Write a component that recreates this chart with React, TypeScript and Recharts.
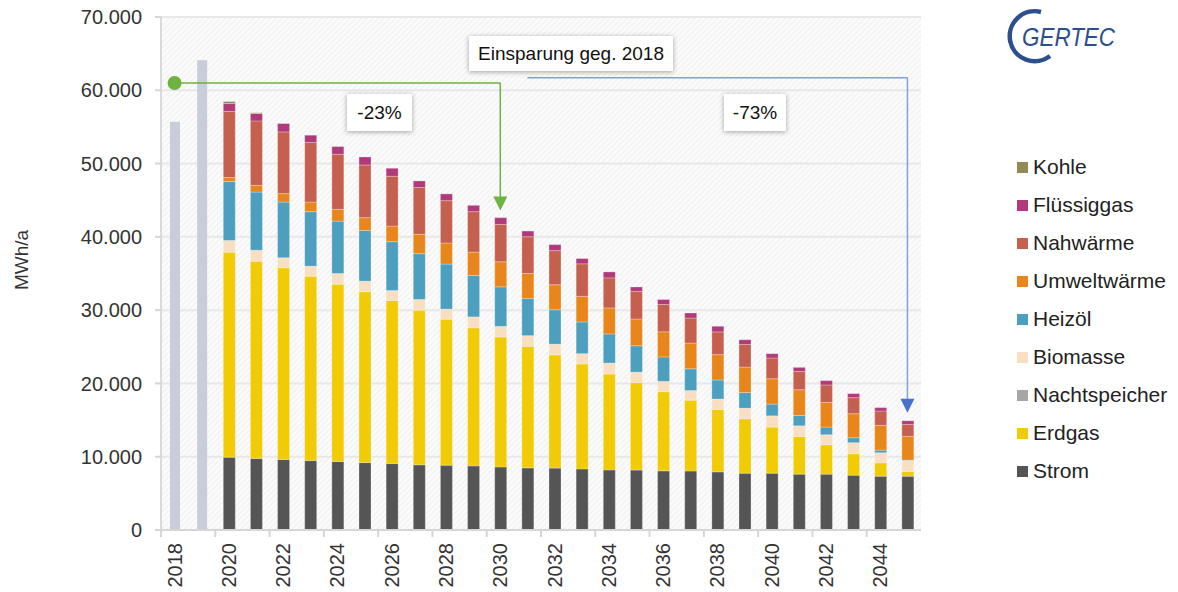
import React from 'react';
import {
  BarChart,
  Bar,
  XAxis,
  YAxis,
  CartesianGrid,
  ReferenceLine,
  ReferenceDot,
} from 'recharts';

// years on the x axis
const years = [
  '2018', '2019', '2020', '2021', '2022', '2023', '2024', '2025', '2026', '2027',
  '2028', '2029', '2030', '2031', '2032', '2033', '2034', '2035', '2036', '2037',
  '2038', '2039', '2040', '2041', '2042', '2043', '2044', '2045',
];

// measured totals (grey bars, 2018 + 2019 only)
const bestand = [55700, 64100];

// scenario 2020..2045, MWh/a
const strom = [9940, 9750, 9610, 9470, 9340, 9200, 9060, 8900, 8850, 8750, 8610, 8480, 8450, 8340, 8200, 8180, 8070, 8050, 7930, 7750, 7750, 7620, 7620, 7480, 7340, 7340];
const erdgas = [27970, 26930, 26170, 25160, 24200, 23310, 22250, 21100, 19920, 18830, 17730, 16580, 15450, 14310, 13080, 11940, 10800, 9670, 8520, 7420, 6290, 5140, 4010, 2930, 1830, 640];
const nachtspeicher = [0, 0, 0, 0, 0, 0, 0, 0, 0, 0, 0, 0, 0, 0, 0, 0, 0, 0, 0, 0, 0, 0, 0, 0, 0, 0];
const biomasse = [1600, 1500, 1370, 1370, 1460, 1440, 1370, 1460, 1370, 1500, 1450, 1460, 1460, 1410, 1500, 1420, 1410, 1310, 1420, 1460, 1540, 1460, 1370, 1500, 1370, 1500];
const heizoel = [8030, 7930, 7600, 7440, 7150, 6930, 6660, 6250, 6150, 5650, 5390, 5060, 4690, 4330, 3970, 3600, 3340, 2970, 2600, 2130, 1600, 1410, 1050, 680, 360, 50];
const umwelt = [550, 920, 1150, 1310, 1600, 1740, 2130, 2640, 2870, 3190, 3420, 3420, 3420, 3500, 3550, 3650, 3420, 3510, 3460, 3470, 3460, 3510, 3360, 3280, 3380, 3240];
const nahwaerme = [9020, 8790, 8420, 8120, 7520, 7190, 6800, 6380, 5780, 5520, 5100, 5020, 4650, 4430, 4100, 3770, 3730, 3420, 3100, 3090, 2830, 2500, 2380, 2190, 1960, 1640];
const fluessiggas = [1090, 1010, 1150, 1000, 1050, 1090, 1090, 900, 920, 860, 920, 770, 820, 720, 820, 600, 680, 680, 770, 640, 590, 550, 590, 550, 460, 490];
const kohle = [270, 100, 50, 0, 0, 0, 0, 0, 0, 0, 0, 0, 0, 0, 0, 0, 0, 0, 0, 0, 0, 0, 0, 0, 0, 0];

const yTicks = [0, 10000, 20000, 30000, 40000, 50000, 60000, 70000];

// bottom to top
const series = [
  { key: 'strom', name: 'Strom', color: '#555555', values: strom },
  { key: 'erdgas', name: 'Erdgas', color: '#f2cb07', values: erdgas },
  { key: 'nachtspeicher', name: 'Nachtspeicher', color: '#a6a6a6', values: nachtspeicher },
  { key: 'biomasse', name: 'Biomasse', color: '#f8dfc2', values: biomasse },
  { key: 'heizoel', name: 'Heizöl', color: '#4c9fbe', values: heizoel },
  { key: 'umwelt', name: 'Umweltwärme', color: '#e9861b', values: umwelt },
  { key: 'nahwaerme', name: 'Nahwärme', color: '#c5604e', values: nahwaerme },
  { key: 'fluessiggas', name: 'Flüssiggas', color: '#b03a7a', values: fluessiggas },
  { key: 'kohle', name: 'Kohle', color: '#938a55', values: kohle },
];

const data = years.map((year, i) => {
  const row: Record<string, any> = { year };
  if (i < bestand.length) {
    row.bestand = bestand[i];
  } else {
    series.forEach((s) => {
      row[s.key] = s.values[i - bestand.length];
    });
  }
  return row;
});

const FONT = '"Liberation Sans", Arial, Helvetica, sans-serif';
const W = 1178;
const H = 592;
const PLOT_LEFT = 161;
const PLOT_RIGHT = 921;
const BAND = (PLOT_RIGHT - PLOT_LEFT) / years.length;

const formatDe = (v: number) => v.toLocaleString('de-DE');

const XTick = (props: any) => {
  const { x, y, payload } = props;
  const lx = x - BAND / 2;
  return (
    <g>
      <line x1={lx} x2={lx} y1={y} y2={y + 7} stroke="#d6d6d6" strokeWidth={2} />
      <text
        x={x}
        y={y + 13}
        transform={`rotate(-90 ${x} ${y + 13})`}
        textAnchor="end"
        dominantBaseline="central"
        fontSize={20}
        fill="#333"
        fontFamily={FONT}
      >
        {payload.value}
      </text>
    </g>
  );
};

const GreyBar = (props: any) => {
  const { x, y, width, height } = props;
  if (!height) return null;
  return <rect x={x + 1} y={y} width={width - 2} height={height} fill="#c9cdd9" />;
};

const arrow = (color: string) => (props: any) => {
  const { cx, cy } = props;
  return (
    <path d={`M ${cx - 7} ${cy - 14} L ${cx + 7} ${cy - 14} L ${cx} ${cy} Z`} fill={color} />
  );
};

const boxStyle: React.CSSProperties = {
  position: 'absolute',
  background: '#fff',
  boxShadow: '0 1px 5px rgba(0,0,0,0.35)',
  fontFamily: FONT,
  fontSize: 19,
  color: '#111',
  display: 'flex',
  alignItems: 'center',
  justifyContent: 'center',
};

const Logo = () => (
  <svg width={150} height={70} style={{ position: 'absolute', left: 990, top: 0 }}>
    <path
      d="M 51 12 A 25 25 0 1 0 60 56"
      fill="none"
      stroke="#2d4f8e"
      strokeWidth={4.5}
    />
    <text
      x={32}
      y={46}
      fontSize={25}
      fontStyle="italic"
      fill="#2d4f8e"
      fontFamily={FONT}
      textLength={93}
      lengthAdjust="spacingAndGlyphs"
    >
      GERTEC
    </text>
  </svg>
);

const legendItems = [...series].reverse();

export default function App() {
  return (
    <div
      style={{
        position: 'absolute',
        left: 0,
        top: 0,
        width: W,
        height: H,
        background: '#fff',
        fontFamily: FONT,
      }}
    >
      <BarChart
        width={W}
        height={H}
        data={data}
        margin={{ top: 17, right: W - PLOT_RIGHT, bottom: 0, left: 0 }}
        barSize={12}
      >
        <defs>
          <pattern id="hatch" width="4" height="4" patternUnits="userSpaceOnUse" patternTransform="rotate(45)">
            <rect width="4" height="4" fill="#fbfbfb" />
            <line x1="0" y1="0" x2="0" y2="4" stroke="#ececec" strokeWidth={1.5} />
          </pattern>
        </defs>
        <CartesianGrid
          vertical={false}
          stroke="#e8e8e8"
          strokeWidth={2}
          fill="url(#hatch)"
          fillOpacity={1}
        />
        <XAxis
          dataKey="year"
          interval={1}
          height={62}
          tickLine={false}
          tickSize={0}
          tickMargin={0}
          axisLine={{ stroke: '#d6d6d6', strokeWidth: 2 }}
          tick={<XTick />}
        />
        <YAxis
          width={PLOT_LEFT}
          domain={[0, 70000]}
          ticks={yTicks}
          tickFormatter={formatDe}
          axisLine={{ stroke: '#dadada', strokeWidth: 2 }}
          tickLine={{ stroke: '#d6d6d6', strokeWidth: 2 }}
          tickSize={6}
          tickMargin={13}
          tick={{ fontSize: 20, fill: '#333', fontFamily: FONT }}
          label={{
            content: () => (
              <text
                x={21}
                y={260}
                transform="rotate(-90 21 260)"
                textAnchor="middle"
                dominantBaseline="central"
                fontSize={19}
                fill="#333"
                fontFamily={FONT}
              >
                MWh/a
              </text>
            ),
          }}
        />
        <Bar dataKey="bestand" stackId="a" shape={<GreyBar />} isAnimationActive={false} />
        {series.map((s) => (
          <Bar
            key={s.key}
            dataKey={s.key}
            name={s.name}
            stackId="a"
            fill={s.color}
            stroke="#ffffff"
            strokeOpacity={0.45}
            strokeWidth={0.6}
            isAnimationActive={false}
          />
        ))}
        <ReferenceLine
          segment={[{ x: '2018', y: 61000 }, { x: '2030', y: 61000 }]}
          stroke="#6db33f"
          strokeWidth={1.5}
        />
        <ReferenceLine
          segment={[{ x: '2030', y: 61000 }, { x: '2030', y: 45400 }]}
          stroke="#6db33f"
          strokeWidth={1.5}
        />
        <ReferenceDot x="2018" y={61000} r={7} fill="#6db33f" stroke="none" />
        <ReferenceDot x="2030" y={43600} shape={arrow('#6db33f')} />
        <ReferenceLine
          segment={[{ x: '2031', y: 61700 }, { x: '2045', y: 61700 }]}
          stroke="#7fa2d8"
          strokeWidth={1.5}
        />
        <ReferenceLine
          segment={[{ x: '2045', y: 61700 }, { x: '2045', y: 17800 }]}
          stroke="#7fa2d8"
          strokeWidth={1.5}
        />
        <ReferenceDot x="2045" y={16000} shape={arrow('#4a72c8')} />
      </BarChart>

      <div style={{ ...boxStyle, left: 469, top: 36, width: 204, height: 35 }}>Einsparung geg. 2018</div>
      <div style={{ ...boxStyle, left: 347, top: 94, width: 65, height: 37 }}>-23%</div>
      <div style={{ ...boxStyle, left: 724, top: 94, width: 62, height: 37 }}>-73%</div>

      <Logo />

      <div style={{ position: 'absolute', left: 1017, top: 148 }}>
        {legendItems.map((s) => (
          <div key={s.key} style={{ display: 'flex', alignItems: 'center', height: 38 }}>
            <span style={{ width: 11, height: 11, background: s.color, marginRight: 5 }} />
            <span style={{ fontSize: 21, color: '#222', fontFamily: FONT }}>{s.name}</span>
          </div>
        ))}
      </div>
    </div>
  );
}
